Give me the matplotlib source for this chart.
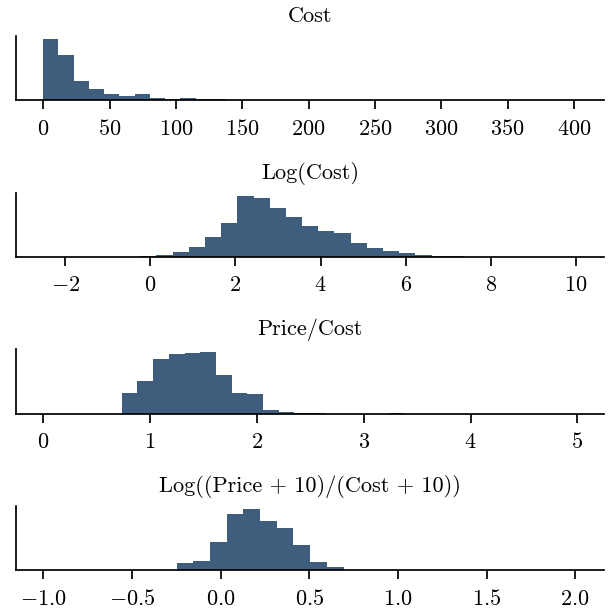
import numpy as np
import matplotlib
matplotlib.use("Agg")
import matplotlib.pyplot as plt

plt.rcParams['font.family'] = ['cmr10', 'DejaVu Serif']
plt.rcParams['mathtext.fontset'] = 'cm'
plt.rcParams['axes.formatter.use_mathtext'] = True
plt.rcParams['axes.unicode_minus'] = True

# ---- data (relative bin counts) ----
titles = ["Cost", "Log(Cost)", "Price/Cost", "Log((Price + 10)/(Cost + 10))"]

cost_start, cost_width = 0.0, 11.5
cost_counts = [180, 132, 57, 33, 18, 12, 18, 7, 5, 7, 5, 5,
               0.5, 0.5, 0.3, 0.3, 0, 0, 0, 0, 0, 0, 0, 0,
               0, 0, 0, 0, 0, 0, 0, 0, 0, 0, 0.3]

logcost_start, logcost_width = -2.516, 0.38
logcost_counts = [0.3, 0, 0, 0, 0, 0,
                  4, 6, 14, 29, 58, 100, 181, 175, 145, 118, 91, 76, 70, 43,
                  28, 17, 12, 6, 4, 4,
                  0.5, 0.3, 0, 0, 0, 0, 0.3]

pc_start, pc_width = 0.0, 0.147
pc_counts = [0.3, 0, 0, 0, 0,
             62, 98, 161, 176, 179, 182, 116, 62, 59, 11, 5, 3, 3,
             0.5, 0.5, 0.5, 0.5, 3,
             0, 0, 0, 0, 0, 0, 0, 0, 0, 0, 0.3]

lr_start, lr_width = -1.0, 0.0941
lr_counts = [0.3, 0, 0, 0, 0, 0, 0, 0,
             22, 28, 85, 169, 184, 148, 127, 76, 25, 10,
             0, 0, 0, 0, 0, 0, 0, 0, 0, 0, 0, 0, 0, 0.3]

xticks = [np.arange(0, 401, 50), np.arange(-2, 11, 2),
          np.arange(0, 6, 1), np.arange(-1.0, 2.01, 0.5)]

series = [(cost_start, cost_width, cost_counts),
          (logcost_start, logcost_width, logcost_counts),
          (pc_start, pc_width, pc_counts),
          (lr_start, lr_width, lr_counts)]

color = "#3F5D7D"

fig, axes = plt.subplots(4, 1, figsize=(6.1, 6.12), dpi=100)
fig.subplots_adjust(left=0.027, right=0.990, top=0.9412, bottom=0.0681, hspace=1.428)

for ax, title, (start, width, counts), ticks in zip(axes, titles, series, xticks):
    counts = np.asarray(counts, dtype=float)
    edges = start + width * np.arange(len(counts) + 1)
    centers = 0.5 * (edges[:-1] + edges[1:])
    ax.hist(centers, bins=edges, weights=counts, color=color, linewidth=0)
    ax.set_title(title, fontsize=16, pad=10)
    ax.set_xticks(ticks)
    ax.set_yticks([])
    ax.spines['top'].set_visible(False)
    ax.spines['right'].set_visible(False)
    ax.spines['left'].set_linewidth(1.25)
    ax.spines['bottom'].set_linewidth(1.25)
    ax.tick_params(axis='x', labelsize=16, length=6.5, width=1.25, pad=7)

fig.savefig("out.png", dpi=100)
